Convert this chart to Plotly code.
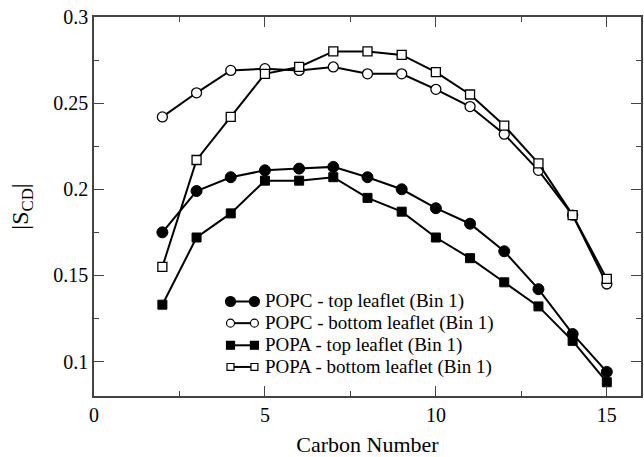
import plotly.graph_objects as go

# Order parameter |S_CD| along the palmitoyl chain
carbon = [2, 3, 4, 5, 6, 7, 8, 9, 10, 11, 12, 13, 14, 15]
popc_top = [0.175, 0.199, 0.207, 0.211, 0.212, 0.213, 0.207, 0.200, 0.189, 0.180, 0.164, 0.142, 0.116, 0.094]
popc_bottom = [0.242, 0.256, 0.269, 0.270, 0.269, 0.271, 0.267, 0.267, 0.258, 0.248, 0.232, 0.211, 0.185, 0.145]
popa_top = [0.133, 0.172, 0.186, 0.205, 0.205, 0.207, 0.195, 0.187, 0.172, 0.160, 0.146, 0.132, 0.112, 0.088]
popa_bottom = [0.155, 0.217, 0.242, 0.267, 0.271, 0.280, 0.280, 0.278, 0.268, 0.255, 0.237, 0.215, 0.185, 0.148]

names = [
    "POPC - top leaflet (Bin 1)",
    "POPC - bottom leaflet (Bin 1)",
    "POPA - top leaflet (Bin 1)",
    "POPA - bottom leaflet (Bin 1)",
]
series = [popc_top, popc_bottom, popa_top, popa_bottom]
styles = [
    dict(symbol="circle", size=11, color="black", line=dict(color="black", width=1)),
    dict(symbol="circle", size=10, color="white", line=dict(color="black", width=1.3)),
    dict(symbol="square", size=9, color="black", line=dict(color="black", width=1)),
    dict(symbol="square", size=9, color="white", line=dict(color="black", width=1.3)),
]

W, H = 644, 457
ML, MR, MT, MB = 94, 1, 17, 55
PW, PH = W - ML - MR, H - MT - MB
SERIF = "Liberation Serif, Times New Roman, serif"
AX = "#444444"

fig = go.Figure()
for name, ys, mk in zip(names, series, styles):
    fig.add_trace(go.Scatter(
        x=carbon, y=ys, name=name, mode="lines+markers",
        line=dict(color="black", width=2), marker=mk, showlegend=False,
    ))


def px_x(p):
    return (p - ML) / PW


def px_y(p):
    return (MT + PH - p) / PH


# Hand-built legend: marker - line - marker glyph followed by the label
shapes = []
annotations = []
row_y = [306, 328, 350.5, 372.5]
gx0, gx1, text_x = 231, 255, 264
kinds = [("circle", 5, "black"), ("circle", 4, "white"),
         ("rect", 4, "black"), ("rect", 3.5, "white")]
for name, py, (kind, r, fill) in zip(names, row_y, kinds):
    shapes.append(dict(type="line", xref="paper", yref="paper",
                       x0=px_x(gx0), x1=px_x(gx1), y0=px_y(py), y1=px_y(py),
                       line=dict(color="black", width=2)))
    for cx in (gx0, gx1):
        shapes.append(dict(type=kind, xref="paper", yref="paper",
                           x0=px_x(cx - r), x1=px_x(cx + r),
                           y0=px_y(py + r), y1=px_y(py - r),
                           fillcolor=fill, line=dict(color="black", width=1.2)))
    annotations.append(dict(xref="paper", yref="paper", x=px_x(text_x), y=px_y(py),
                            xanchor="left", yanchor="middle", showarrow=False,
                            text=name, font=dict(family=SERIF, size=19, color="black")))

axis_common = dict(
    showline=True, linecolor=AX, linewidth=1.5, mirror="ticks",
    ticks="inside", ticklen=10, tickwidth=1.3, tickcolor=AX,
    showgrid=False, zeroline=False,
    tickfont=dict(family=SERIF, size=20, color="black"),
)

fig.update_xaxes(
    range=[0, 16], tick0=0, dtick=5,
    minor=dict(dtick=2.5, ticks="inside", ticklen=5, tickwidth=1.3, tickcolor=AX),
    title=dict(text="Carbon Number", font=dict(family=SERIF, size=22, color="black"), standoff=15),
    **axis_common,
)
fig.update_yaxes(
    range=[0.08, 0.3], tick0=0.1, dtick=0.05,
    minor=dict(dtick=0.025, ticks="inside", ticklen=5, tickwidth=1.3, tickcolor=AX),
    title=dict(text="|S<sub>CD</sub>|", font=dict(family=SERIF, size=24, color="black"), standoff=18),
    **axis_common,
)

fig.update_layout(
    width=W, height=H,
    margin=dict(l=ML, r=MR, t=MT, b=MB),
    paper_bgcolor="white", plot_bgcolor="white",
    shapes=shapes, annotations=annotations,
)

fig.write_html("out.html")
